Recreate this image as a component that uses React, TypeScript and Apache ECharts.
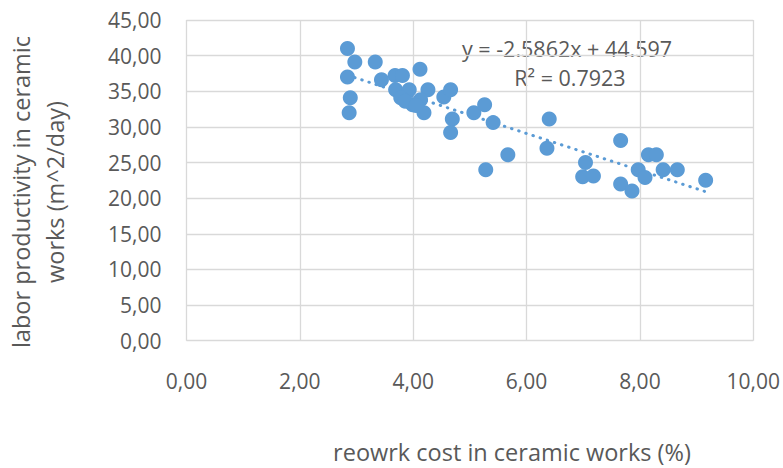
import React, { useEffect, useRef } from "react";
import * as echarts from "echarts";

const reworkCost = [
  2.84, 2.97, 3.33, 2.84, 2.89, 2.87, 3.44, 3.68, 3.81, 4.12, 3.69, 3.93, 3.78, 3.99,
  4.19, 4.26, 4.13, 4.54, 4.66, 4.69, 4.66, 5.07, 5.26, 5.41, 5.67, 5.28, 6.40, 6.36,
  7.66, 7.04, 6.99, 7.18, 7.66, 7.86, 7.97, 8.09, 8.15, 8.29, 8.41, 8.66, 9.16, 3.86, 4.05,
];
const productivity = [
  41.0, 39.1, 39.1, 37.0, 34.1, 32.0, 36.6, 37.2, 37.2, 38.1, 35.2, 35.2, 34.1, 33.1,
  32.0, 35.2, 33.8, 34.2, 35.2, 31.1, 29.2, 32.0, 33.1, 30.6, 26.1, 24.0, 31.1, 27.0,
  28.1, 25.0, 23.0, 23.1, 22.0, 21.0, 24.0, 22.9, 26.1, 26.1, 24.0, 24.0, 22.5, 33.6, 33.0,
];
const slope = -2.5862;
const intercept = 44.597;
const rSquared = "0.7923";
const xTitle = "reowrk cost in ceramic works (%)";
const yTitle = "labor productivity in ceramic\nworks (m^2/day)";

const FONT = "'Open Sans', sans-serif";
const TXT = "#595959";
const BLUE = "#5B9BD5";
const fmt = (v: number) => v.toFixed(2).replace(".", ",");

export default function App() {
  const ref = useRef<HTMLDivElement>(null);
  useEffect(() => {
    document.body.style.margin = "0";
    if (!ref.current) return;
    const chart = echarts.init(ref.current, null, { renderer: "svg" });
    const pts = reworkCost.map((x, i) => [x, productivity[i]]);
    const xMin = Math.min(...reworkCost);
    const xMax = Math.max(...reworkCost);
    const trend = [
      [xMin, slope * xMin + intercept],
      [xMax, slope * xMax + intercept],
    ];
    chart.setOption({
      animation: false,
      grid: { left: 186.5, right: 27, top: 20, bottom: 127.3, containLabel: false },
      xAxis: {
        type: "value",
        min: 0,
        max: 10,
        interval: 2,
        axisLine: { show: false },
        axisTick: { show: false },
        splitLine: { show: true, lineStyle: { color: "#D9D9D9", width: 1.3 } },
        axisLabel: { color: TXT, fontFamily: FONT, fontSize: 21, margin: 30, formatter: fmt },
      },
      yAxis: {
        type: "value",
        min: 0,
        max: 45,
        interval: 5,
        axisLine: { show: false },
        axisTick: { show: false },
        splitLine: { show: true, lineStyle: { color: "#D9D9D9", width: 1.3 } },
        axisLabel: { color: TXT, fontFamily: FONT, fontSize: 21, margin: 25, formatter: fmt },
      },
      graphic: [
        {
          type: "text",
          x: 512,
          y: 452,
          style: { text: xTitle, fill: TXT, font: `23.5px ${FONT}`, align: "center", verticalAlign: "middle" },
        },
        {
          type: "text",
          x: 38,
          y: 192,
          rotation: Math.PI / 2,
          style: {
            text: yTitle,
            fill: TXT,
            font: `23.5px ${FONT}`,
            align: "center",
            verticalAlign: "middle",
            lineHeight: 34,
          },
        },
        {
          type: "text",
          x: 567,
          y: 48,
          style: {
            text: `y = ${slope}x + ${intercept}`,
            fill: TXT,
            font: `21.5px ${FONT}`,
            align: "center",
            verticalAlign: "middle",
          },
        },
        {
          type: "text",
          x: 570,
          y: 77,
          style: {
            text: `R² = ${rSquared}`,
            fill: TXT,
            font: `21.5px ${FONT}`,
            align: "center",
            verticalAlign: "middle",
          },
        },
      ],
      series: [
        {
          type: "line",
          data: trend,
          symbol: "none",
          lineStyle: { color: BLUE, width: 3, type: [0.5, 7], cap: "round" },
          z: 1,
        },
        {
          type: "scatter",
          data: pts,
          symbol: "circle",
          symbolSize: 15,
          itemStyle: { color: BLUE, opacity: 1 },
          z: 2,
        },
      ],
    });
    return () => chart.dispose();
  }, []);
  return <div ref={ref} style={{ width: 783, height: 468 }} />;
}
